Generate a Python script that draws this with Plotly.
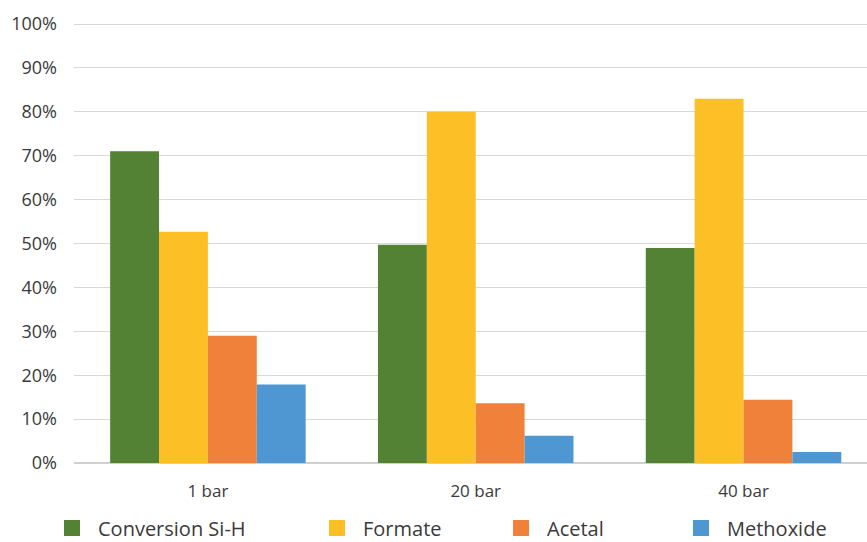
import plotly.graph_objects as go

categories = ["1 bar", "20 bar", "40 bar"]
conversion_sih = [0.71, 0.497, 0.49]
formate = [0.527, 0.80, 0.83]
acetal = [0.29, 0.136, 0.144]
methoxide = [0.179, 0.062, 0.025]

series_names = ["Conversion Si-H", "Formate", "Acetal", "Methoxide"]
series_values = [conversion_sih, formate, acetal, methoxide]
colors = ["#548235", "#FCBF26", "#F0813A", "#4E97D2"]
legend_ids = ["legend", "legend2", "legend3", "legend4"]

FONT = "Open Sans, Noto Sans, sans-serif"
TXT = "#3a3a3a"
W, H = 867, 542

fig = go.Figure()
for name, vals, col in zip(series_names, series_values, colors):
    fig.add_trace(go.Bar(x=categories, y=vals, name=name, marker_color=col,
                         marker_line_width=0, showlegend=False))

# legend proxies (square markers), one legend per entry
legend_text_px = [98, 363, 547, 727]
for name, col, lid in zip(series_names, colors, legend_ids):
    fig.add_trace(go.Scatter(x=[None], y=[None], mode="markers", name=name,
                             marker=dict(symbol="square", size=16, color=col),
                             legend=lid, showlegend=True))

layout_legends = {}
for lid, tx in zip(legend_ids, legend_text_px):
    layout_legends[lid] = dict(
        orientation="v", xref="container", yref="container",
        x=(tx - 52) / W, xanchor="left",
        y=1 - 528 / H, yanchor="middle",
        bgcolor="rgba(0,0,0,0)", font=dict(family=FONT, size=20, color=TXT),
        itemsizing="trace", itemwidth=42, tracegroupgap=0,
    )

fig.update_layout(
    width=W, height=H,
    margin=dict(l=74, r=0, t=15, b=79, autoexpand=False),
    paper_bgcolor="white", plot_bgcolor="white",
    barmode="group", bargap=0.27, bargroupgap=0,
    font=dict(family=FONT, color=TXT),
    **layout_legends,
)
fig.update_xaxes(range=[-0.5, 2.461], showgrid=False, showline=False, zeroline=False,
                 ticks="", ticklabelstandoff=16,
                 tickfont=dict(family=FONT, size=17, color=TXT))
fig.update_yaxes(range=[0, 1.0205], dtick=0.1, tick0=0, tickformat=".0%",
                 showgrid=True, gridcolor="#d9d9d9", gridwidth=1.4,
                 zeroline=True, zerolinecolor="#d0d0d0", zerolinewidth=1.6,
                 showline=False, ticks="", ticklabelstandoff=16,
                 tickfont=dict(family=FONT, size=18, color=TXT))

fig.write_html("out.html")
